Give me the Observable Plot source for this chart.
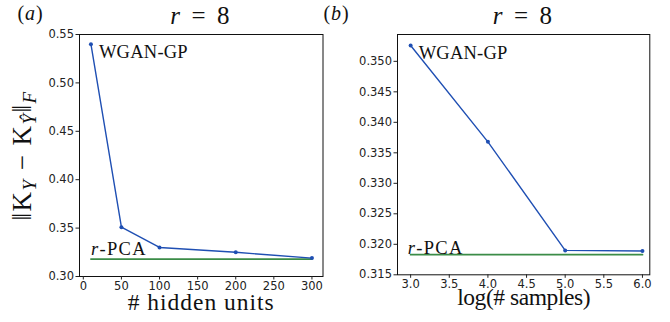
<!DOCTYPE html>
<html><head><meta charset="utf-8">
<script src="https://cdn.jsdelivr.net/npm/d3@7"></script>
<script src="https://cdn.jsdelivr.net/npm/@observablehq/plot@0.6"></script>
<style>
body{margin:0;background:#fff;}
#wrap{position:relative;width:670px;height:322px;overflow:hidden;}
#wrap svg{position:absolute;top:0;}
</style></head><body><div id="wrap"></div>
<script>
// ---- data ----
const hiddenUnits = [10, 50, 100, 200, 300];
const errHidden = [0.540, 0.351, 0.330, 0.325, 0.319];
const pcaHidden = 0.318;
const logSamples = [3, 4, 5, 6];
const errSamples = [0.3526, 0.3368, 0.3190, 0.3189];
const pcaSamples = 0.3183;
const ticksAX = [0, 50, 100, 150, 200, 250, 300];
const ticksAY = [0.30, 0.35, 0.40, 0.45, 0.50, 0.55];
const ticksBX = [3.0, 3.5, 4.0, 4.5, 5.0, 5.5, 6.0];
const ticksBY = [0.315, 0.320, 0.325, 0.330, 0.335, 0.340, 0.345, 0.350];
const panelLabels = ["(a)", "(b)"];
const titleText = "r = 8";
const xLabels = ["# hidden units", "log(# samples)"];
const yLabelText = "‖K_Y − K_Ŷ‖_F";
const seriesName = "WGAN-GP";
const baselineName = "r-PCA";

const BLUE = "#1f4fb3";
const GREEN = "#3b8c47";
const SERIF = "'Liberation Serif', 'DejaVu Serif', serif";

function panel(o) {
  const data = o.xs.map((x, i) => ({x, y: o.ys[i]}));
  const ext = d3.extent(o.xs);
  const base = ext.map(x => ({x, y: o.pca}));
  const T = {fill: "#111", lineAnchor: "middle"};
  const marks = [
    Plot.frame({stroke: "#111", strokeWidth: 1}),
    Plot.axisX({ticks: o.tx, tickSize: 3.5, tickPadding: 1.5, tickFormat: o.fx, label: null}),
    Plot.axisY({ticks: o.ty, tickSize: 3.5, tickPadding: 2, tickFormat: o.fy, label: null}),
    Plot.line(base, {x: "x", y: "y", stroke: GREEN, strokeWidth: 1.8}),
    Plot.line(data, {x: "x", y: "y", stroke: BLUE, strokeWidth: 1.4}),
    Plot.dot(data, {x: "x", y: "y", r: 2, fill: BLUE, stroke: null}),
    Plot.text([seriesName], {...T, x: o.xs[0], y: o.ys[0], dx: 8, dy: 8, textAnchor: "start"}),
    Plot.text([baselineName], {...T, x: o.xs[0], y: o.pca, dx: o.pcaDx, dy: o.pcaDy, textAnchor: "start"}),
    Plot.text([titleText], {...T, frameAnchor: "top", dy: -18.7, textAnchor: "middle"}),
    Plot.text([o.xl], {...T, frameAnchor: "bottom", dy: o.xlDy, textAnchor: "middle"}),
    Plot.text([o.pl], {...T, frameAnchor: "top-left", dx: o.plDx, dy: -21.4, textAnchor: "start"})
  ];
  if (o.yl) marks.push(Plot.text([o.yl], {...T, frameAnchor: "left", dx: -57.6, rotate: -90, textAnchor: "middle"}));
  return Plot.plot({
    width: 335, height: 322,
    marginLeft: o.ml, marginRight: o.mr, marginTop: 34, marginBottom: o.mb,
    x: {domain: o.dx},
    y: {domain: o.dy},
    style: {fontFamily: "'DejaVu Sans', sans-serif", fontSize: "11.5px", color: "#222", background: "transparent", overflow: "visible"},
    marks
  });
}

const specs = {
  [titleText]: {size: 25, w: 62, parts: [["r", "i"], [" = 8"]]},
  [baselineName]: {size: 18.5, w: 56, parts: [["r", "i"], ["-PCA"]]},
  [seriesName]: {size: 18.5, w: 89, parts: [[seriesName]]},
  [xLabels[0]]: {size: 23.5, w: 147, parts: [[xLabels[0]]]},
  [xLabels[1]]: {size: 23.5, w: 133, parts: [[xLabels[1]]]},
  "(a)": {size: 20, w: 26, parts: [["("], ["a", "i"], [")"]]},
  "(b)": {size: 20, w: 26, parts: [["("], ["b", "i"], [")"]]},
  [yLabelText]: {size: 27, w: 130, parts: [["‖K"], ["Y", "sub"], [" − K"], ["Ŷ", "sub"], ["‖"], ["F", "sub"]]}
};

function rich(svg) {
  d3.select(svg).selectAll("text").each(function() {
    const key = this.textContent;
    const sp = specs[key];
    if (!sp) return;
    const el = d3.select(this);
    el.text(null)
      .style("font-family", SERIF)
      .style("font-size", sp.size + "px");
    let shifted = false;
    sp.parts.forEach(([t, kind]) => {
      const ts = el.append("tspan").text(t);
      if (kind === "i") ts.style("font-style", "italic");
      if (kind === "sub") {
        ts.style("font-style", "italic").style("font-size", Math.round(sp.size * 0.7) + "px");
        if (!shifted) { ts.attr("dy", "5"); shifted = true; }
      } else if (shifted) {
        ts.attr("dy", "-5"); shifted = false;
      }
    });
    const len = this.getComputedTextLength();
    const n = this.textContent.length;
    const ls = (sp.w - len) / n;
    el.style("letter-spacing", ls.toFixed(2) + "px");
  });
  return svg;
}

const a = panel({
  xs: hiddenUnits, ys: errHidden, pca: pcaHidden,
  tx: ticksAX, ty: ticksAY, fx: d3.format("d"), fy: d3.format(".2f"),
  dx: [-5, 314.5], dy: [0.30, 0.55],
  ml: 79, mr: 12.5, mb: 46, xl: xLabels[0], xlDy: 26, yl: yLabelText, pl: panelLabels[0], plDx: -62,
  pcaDx: 0, pcaDy: -9.6
});
const b = panel({
  xs: logSamples, ys: errSamples, pca: pcaSamples,
  tx: ticksBX, ty: ticksBY, fx: d3.format(".1f"), fy: d3.format(".3f"),
  dx: [2.83, 6.095], dy: [0.315, 0.3544],
  ml: 62, mr: 20.7, mb: 47.7, xl: xLabels[1], xlDy: 23, yl: null, pl: panelLabels[1], plDx: -74,
  pcaDx: -3, pcaDy: -6.9
});
a.style.left = "0px";
b.style.left = "335px";
document.getElementById("wrap").append(a, b);
rich(a); rich(b);
</script>
</body></html>
